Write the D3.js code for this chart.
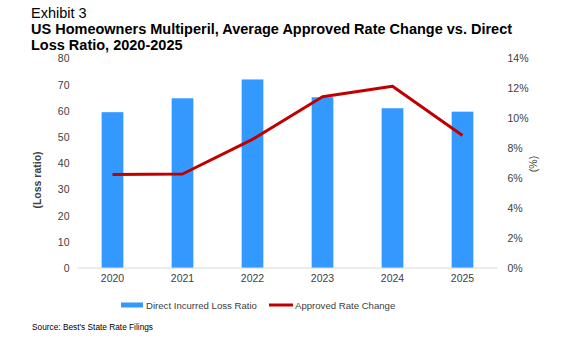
<!DOCTYPE html>
<html>
<head>
<meta charset="utf-8">
<script src="https://cdn.jsdelivr.net/npm/d3@7"></script>
<style>
  body { margin: 0; background: #fff; }
  svg { font-family: "Liberation Sans", Arial, sans-serif; }
</style>
</head>
<body>
<svg id="chart" width="580" height="349"></svg>
<script>
// Chart data
const years = ['2020', '2021', '2022', '2023', '2024', '2025'];
const lossRatio = [59.5, 64.8, 72.0, 65.2, 61.0, 59.7];
const rateChange = [6.25, 6.28, 8.6, 11.45, 12.15, 8.85];
const leftTicks = [0, 10, 20, 30, 40, 50, 60, 70, 80];
const rightTicks = [0, 2, 4, 6, 8, 10, 12, 14];

const svg = d3.select('#chart');
const plot = { left: 77.5, right: 497.5, top: 58.5, bottom: 268 };

const x = d3.scaleBand()
  .domain(years)
  .range([plot.left, plot.right])
  .paddingInner(0.69)
  .paddingOuter(0.345);

const yLeft = d3.scaleLinear().domain([0, 80]).range([plot.bottom, plot.top]);
const yRight = d3.scaleLinear().domain([0, 14]).range([plot.bottom, plot.top]);

// Titles
svg.append('text').attr('x', 31).attr('y', 18)
  .attr('font-size', 14.5).attr('fill', '#000').text('Exhibit 3');
svg.append('text').attr('x', 31).attr('y', 34)
  .attr('font-size', 14.5).attr('font-weight', 'bold').attr('fill', '#000')
  .text('US Homeowners Multiperil, Average Approved Rate Change vs. Direct');
svg.append('text').attr('x', 31).attr('y', 50)
  .attr('font-size', 14.5).attr('font-weight', 'bold').attr('fill', '#000')
  .text('Loss Ratio, 2020-2025');

// Bars
svg.selectAll('.bar')
  .data(years)
  .enter()
  .append('rect')
  .attr('class', 'bar')
  .attr('x', d => x(d))
  .attr('width', x.bandwidth())
  .attr('y', (d, i) => yLeft(lossRatio[i]))
  .attr('height', (d, i) => plot.bottom - yLeft(lossRatio[i]))
  .attr('fill', '#3399FF');

// Baseline
svg.append('line')
  .attr('x1', plot.left).attr('x2', plot.right)
  .attr('y1', plot.bottom).attr('y2', plot.bottom)
  .attr('stroke', '#D9D9D9').attr('stroke-width', 1);

// Left axis
const leftAxis = svg.append('g')
  .attr('transform', `translate(${plot.left - 8},0)`)
  .call(d3.axisLeft(yLeft).tickValues(leftTicks).tickSize(0).tickPadding(0));
leftAxis.select('.domain').remove();
leftAxis.selectAll('text').attr('font-size', 10.5).attr('fill', '#404040')
  .attr('font-family', '"Liberation Sans", Arial, sans-serif');

// Right axis
const rightAxis = svg.append('g')
  .attr('transform', `translate(${plot.right + 10},0)`)
  .call(d3.axisRight(yRight).tickValues(rightTicks).tickSize(0).tickPadding(0)
    .tickFormat(d => d + '%'));
rightAxis.select('.domain').remove();
rightAxis.selectAll('text').attr('font-size', 10.5).attr('fill', '#404040')
  .attr('font-family', '"Liberation Sans", Arial, sans-serif');

// X axis
const xAxis = svg.append('g')
  .attr('transform', `translate(0,${plot.bottom})`)
  .call(d3.axisBottom(x).tickSize(0).tickPadding(7));
xAxis.select('.domain').remove();
xAxis.selectAll('text').attr('font-size', 10.5).attr('fill', '#404040')
  .attr('font-family', '"Liberation Sans", Arial, sans-serif');

// Axis titles
svg.append('text')
  .attr('transform', 'translate(41,180) rotate(-90)')
  .attr('text-anchor', 'middle').attr('font-size', 10.5).attr('font-weight', 'bold')
  .attr('fill', '#404040').text('(Loss ratio)');
svg.append('text')
  .attr('transform', 'translate(537,164) rotate(-90)')
  .attr('text-anchor', 'middle').attr('font-size', 10.5)
  .attr('fill', '#404040').text('(%)');

// Line
const line = d3.line()
  .x((d, i) => x(years[i]) + x.bandwidth() / 2)
  .y(d => yRight(d));
svg.append('path')
  .datum(rateChange)
  .attr('d', line)
  .attr('fill', 'none')
  .attr('stroke', '#C00000')
  .attr('stroke-width', 3)
  .attr('stroke-linejoin', 'round');

// Legend
const legend = svg.append('g').attr('font-size', 9.6);
legend.append('rect').attr('x', 121).attr('y', 302.5).attr('width', 22).attr('height', 5).attr('fill', '#3399FF');
legend.append('text').attr('x', 146).attr('y', 308.5).attr('fill', '#404040').text('Direct Incurred Loss Ratio');
legend.append('line').attr('x1', 269).attr('x2', 293).attr('y1', 305).attr('y2', 305)
  .attr('stroke', '#C00000').attr('stroke-width', 3);
legend.append('text').attr('x', 295).attr('y', 308.5).attr('fill', '#404040').text('Approved Rate Change');

// Source
svg.append('text').attr('x', 32).attr('y', 330)
  .attr('font-size', 8.3).attr('fill', '#000').text("Source: Best's State Rate Filings");
</script>
</body>
</html>
